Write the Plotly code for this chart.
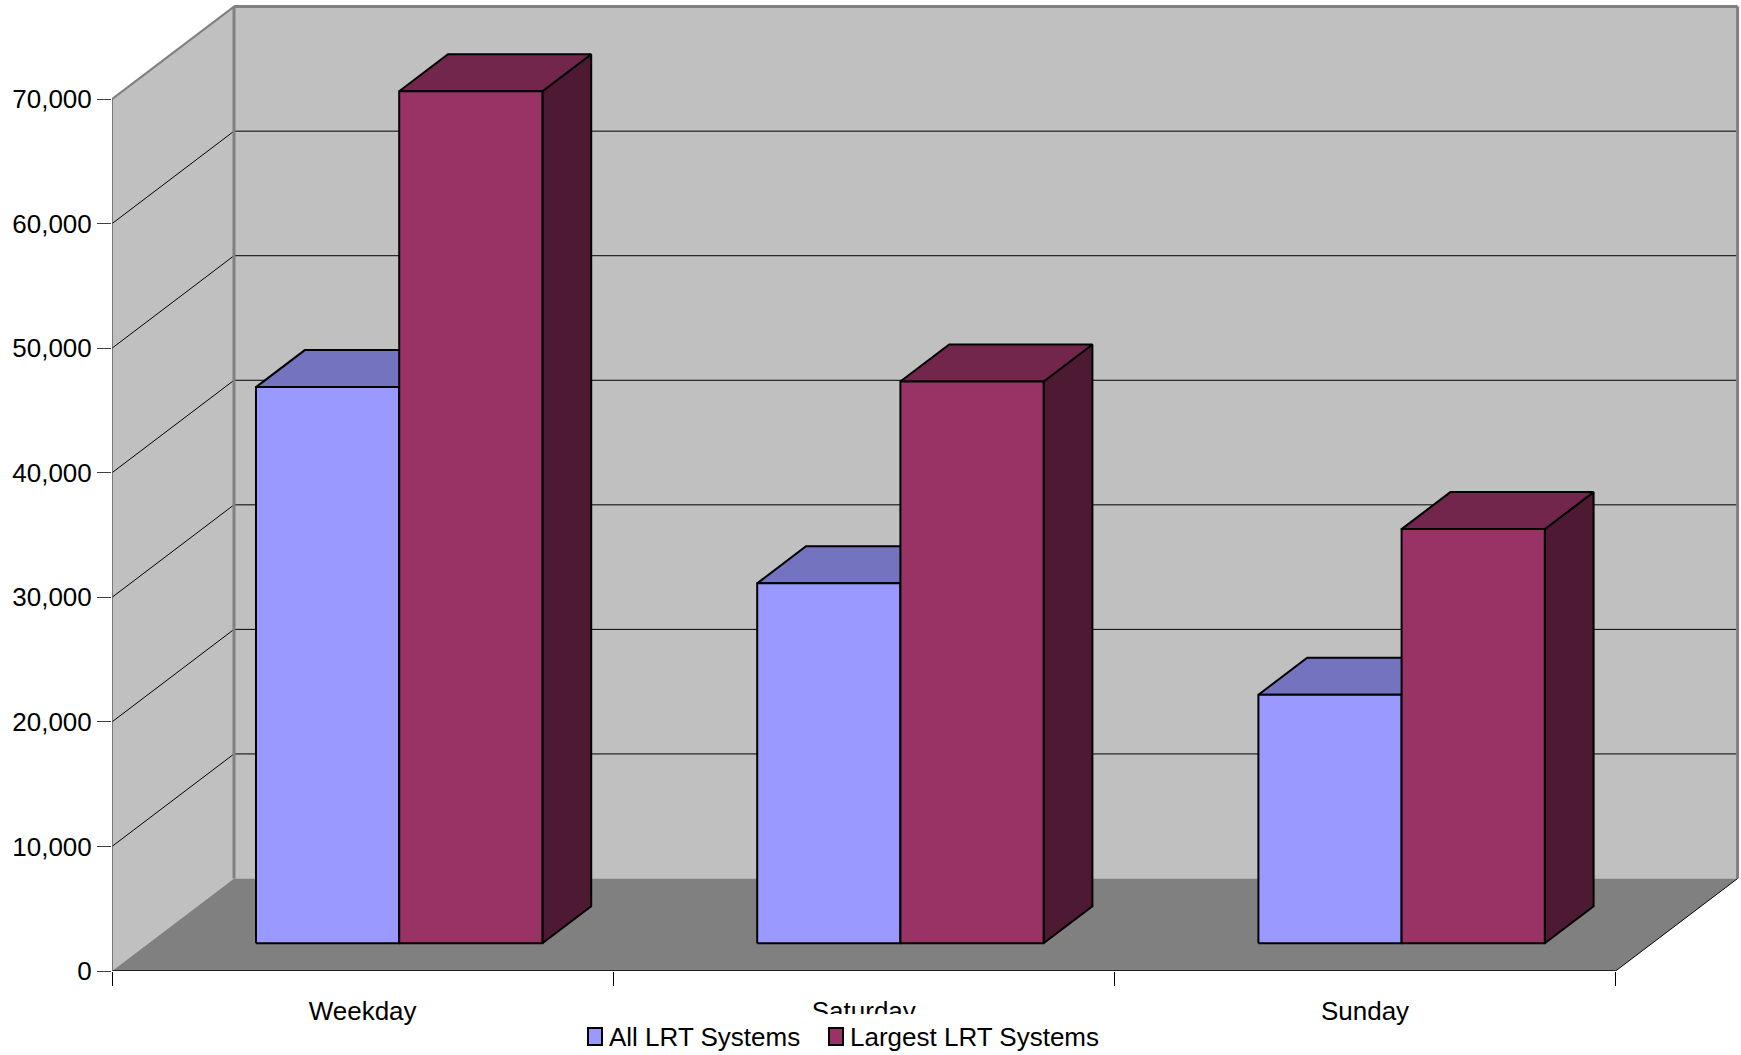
import plotly.graph_objects as go

# Average daily boardings by day type
categories = ["Weekday", "Saturday", "Sunday"]
all_lrt = [44650, 28900, 19950]
largest_lrt = [68400, 45100, 33250]
value_ticks = [0, 10000, 20000, 30000, 40000, 50000, 60000, 70000]

FONT = "Liberation Sans, Arial, sans-serif"
NARROW = "Liberation Sans Narrow, Liberation Sans, Arial, sans-serif"

WIDTH, HEIGHT = 1741, 1055
LEFT, BOTTOM = 112, 84
PX_PER_CAT = 501.2
PX_PER_VAL = 871.9 / 70000

# Oblique projection: full chart depth as an offset in axis units
DEPTH_X = 122.0 / PX_PER_CAT
DEPTH_Y = 92.5 / PX_PER_VAL
BAR_WIDTH = 1 / 3.5
GAP = (1 - 2 * BAR_WIDTH) / 2
BAR_NEAR, BAR_FAR = 0.30, 0.70

TOP = value_ticks[-1]
N = len(categories)


def project(cat, val, depth):
    return cat + depth * DEPTH_X, val + depth * DEPTH_Y


def polygon(corners):
    pts = [project(*c) for c in corners]
    pts.append(pts[0])
    return [p[0] for p in pts], [p[1] for p in pts]


def add_face(fig, corners, fill, line_color=None, line_width=0, name=None):
    xs, ys = polygon(corners)
    fig.add_trace(go.Scatter(
        x=xs, y=ys, mode="lines", fill="toself", fillcolor=fill,
        line=dict(color=line_color or fill, width=line_width),
        hoverinfo="skip", showlegend=False, name=name,
    ))


def add_line(fig, a, b, color, width):
    xs, ys = zip(project(*a), project(*b))
    fig.add_trace(go.Scatter(
        x=xs, y=ys, mode="lines", line=dict(color=color, width=width),
        hoverinfo="skip", showlegend=False,
    ))


fig = go.Figure()

# Walls and floor
WALL, FLOOR, EDGE = "#c0c0c0", "#808080", "#808080"
add_face(fig, [(0, 0, 1), (N, 0, 1), (N, TOP, 1), (0, TOP, 1)], WALL)
add_face(fig, [(0, 0, 0), (0, 0, 1), (0, TOP, 1), (0, TOP, 0)], WALL)
add_face(fig, [(0, 0, 0), (N, 0, 0), (N, 0, 1), (0, 0, 1)], FLOOR)

# Gridlines run along the side wall and across the back wall
for v in value_ticks[1:-1]:
    add_line(fig, (0, v, 0), (0, v, 1), "#000000", 1)
    add_line(fig, (0, v, 1), (N, v, 1), "#000000", 1)

# Wall outlines
add_line(fig, (0, TOP, 0), (0, TOP, 1), EDGE, 2)
add_line(fig, (0, TOP, 1), (N, TOP, 1), EDGE, 3)
add_line(fig, (0, 0, 1), (0, TOP, 1), EDGE, 3)
add_line(fig, (N, 0, 1), (N, TOP, 1), EDGE, 3)
add_line(fig, (N, 0, 0), (N, 0, 1), "#000000", 1)

# Bars: side and top faces are darker shades of the front colour
series = [
    ("All LRT Systems", all_lrt, 0, "#9999ff", "#7373bf", "#4d4d80"),
    ("Largest LRT Systems", largest_lrt, 1, "#993366", "#73264c", "#4d1933"),
]
for name, values, slot, front, top, side in series:
    for i, v in enumerate(values):
        x0 = i + GAP + slot * BAR_WIDTH
        x1 = x0 + BAR_WIDTH
        add_face(fig, [(x1, 0, BAR_NEAR), (x1, 0, BAR_FAR), (x1, v, BAR_FAR), (x1, v, BAR_NEAR)],
                 side, "#000000", 2, name)
        add_face(fig, [(x0, v, BAR_NEAR), (x1, v, BAR_NEAR), (x1, v, BAR_FAR), (x0, v, BAR_FAR)],
                 top, "#000000", 2, name)
        add_face(fig, [(x0, 0, BAR_NEAR), (x1, 0, BAR_NEAR), (x1, v, BAR_NEAR), (x0, v, BAR_NEAR)],
                 front, "#000000", 2, name)


def paper_x(px):
    return (px - LEFT) / (WIDTH - LEFT)


def paper_y(py):
    return (HEIGHT - BOTTOM - py) / (HEIGHT - BOTTOM)


# Legend strip: its white backing sits over the category labels
shapes = [dict(type="rect", layer="above", xref="paper", yref="paper",
               x0=paper_x(580), x1=paper_x(1180), y0=paper_y(1055), y1=paper_y(1014),
               fillcolor="#ffffff", line=dict(width=0))]
annotations = []
for (label, _, _, colour, _, _), sx in zip(series, (588, 829)):
    shapes.append(dict(type="rect", layer="above", xref="paper", yref="paper",
                       x0=paper_x(sx), x1=paper_x(sx + 14), y0=paper_y(1045), y1=paper_y(1028),
                       fillcolor=colour, line=dict(color="#000000", width=2)))
    annotations.append(dict(text=label, xref="paper", yref="paper", showarrow=False,
                            x=paper_x(sx + 18.5), y=paper_y(1037), xanchor="left", yanchor="middle",
                            font=dict(family=NARROW, size=26, color="#000000")))

fig.update_layout(
    width=WIDTH, height=HEIGHT,
    margin=dict(l=LEFT, r=0, t=0, b=BOTTOM, pad=0),
    paper_bgcolor="#ffffff", plot_bgcolor="#ffffff",
    showlegend=False, shapes=shapes, annotations=annotations,
    xaxis=dict(
        range=[0, (WIDTH - LEFT) / PX_PER_CAT],
        tickmode="array", tickvals=[i + 0.5 for i in range(N)], ticktext=categories,
        ticks="", ticklabelstandoff=22, showgrid=False, zeroline=False,
        showline=False,
        tickfont=dict(family=FONT, size=26, color="#000000"),
        minor=dict(ticks="outside", ticklen=14, tickwidth=1, tickcolor="#000000",
                   tick0=0, dtick=1, showgrid=False),
    ),
    yaxis=dict(
        range=[0, (HEIGHT - BOTTOM) / PX_PER_VAL],
        tickmode="array", tickvals=value_ticks, tickformat=",d",
        ticks="outside", ticklen=14, tickwidth=1, tickcolor="#404040",
        showgrid=False, zeroline=False, showline=False,
        tickfont=dict(family=FONT, size=26, color="#000000"),
    ),
)

# Front edges of the chart box, drawn over the floor and side wall
add_line(fig, (0, 0, 0), (N, 0, 0), "#000000", 1.5)
add_line(fig, (0, 0, 0), (0, TOP, 0), "#606060", 1.5)

fig.write_html("out.html")
